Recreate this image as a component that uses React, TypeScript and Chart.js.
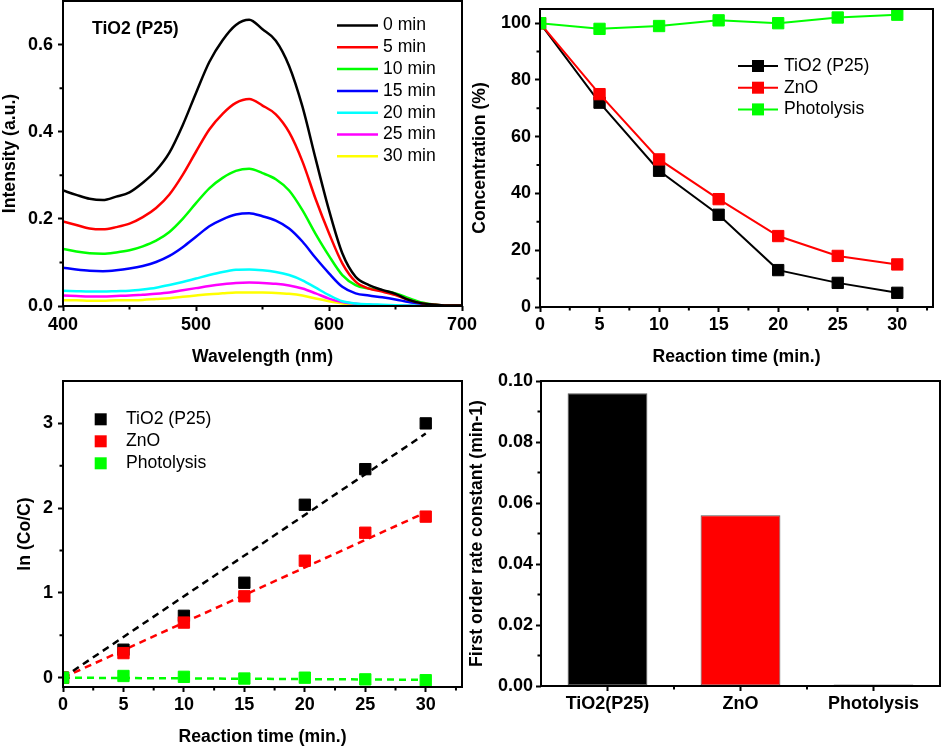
import React, { useEffect, useRef } from 'react';
import { Chart, registerables } from 'chart.js';

Chart.register(...registerables);

const FONT_FAMILY = "'Liberation Sans', Arial, Helvetica, sans-serif";
const TICK_FONT = { family: FONT_FAMILY, size: 18, weight: 'bold' as const };
const TITLE_FONT = { family: FONT_FAMILY, size: 17.6, weight: 'bold' as const };
const LEGEND_FONT = `17.6px ${FONT_FAMILY}`;
const NOTE_FONT = `bold 17.6px ${FONT_FAMILY}`;

// ---------------- Panel (a): spectra vs time ----------------
const wavelengths = [400, 410, 420, 430, 440, 450, 460, 470, 480, 490, 500, 510, 520, 530, 540, 550, 560, 570, 580, 590, 600, 610, 620, 630, 640, 650, 660, 670, 680, 690, 700];
const spectrum0 = [0.265, 0.255, 0.246, 0.243, 0.251, 0.261, 0.283, 0.311, 0.352, 0.415, 0.489, 0.560, 0.610, 0.645, 0.657, 0.635, 0.609, 0.551, 0.458, 0.337, 0.220, 0.121, 0.067, 0.048, 0.037, 0.028, 0.014, 0.006, 0.003, 0.001, 0.001];
const spectrum5 = [0.194, 0.186, 0.178, 0.176, 0.181, 0.189, 0.204, 0.225, 0.256, 0.301, 0.354, 0.405, 0.441, 0.466, 0.475, 0.460, 0.440, 0.399, 0.332, 0.245, 0.167, 0.098, 0.056, 0.040, 0.033, 0.025, 0.014, 0.006, 0.003, 0.001, 0.001];
const spectrum10 = [0.131, 0.125, 0.121, 0.120, 0.123, 0.128, 0.137, 0.150, 0.170, 0.200, 0.236, 0.270, 0.294, 0.310, 0.315, 0.305, 0.291, 0.265, 0.220, 0.165, 0.115, 0.071, 0.048, 0.040, 0.035, 0.029, 0.018, 0.008, 0.003, 0.001, 0.001];
const spectrum15 = [0.088, 0.084, 0.081, 0.080, 0.082, 0.086, 0.092, 0.101, 0.115, 0.135, 0.159, 0.183, 0.199, 0.210, 0.213, 0.206, 0.196, 0.178, 0.148, 0.110, 0.075, 0.044, 0.029, 0.024, 0.020, 0.015, 0.009, 0.005, 0.002, 0.001, 0.001];
const spectrum20 = [0.035, 0.034, 0.033, 0.033, 0.034, 0.035, 0.038, 0.042, 0.048, 0.055, 0.063, 0.071, 0.078, 0.083, 0.084, 0.082, 0.078, 0.071, 0.059, 0.042, 0.025, 0.011, 0.006, 0.004, 0.003, 0.002, 0.001, 0.001, 0.001, 0.001, 0.001];
const spectrum25 = [0.024, 0.023, 0.022, 0.022, 0.023, 0.024, 0.026, 0.028, 0.031, 0.036, 0.041, 0.046, 0.050, 0.053, 0.054, 0.053, 0.051, 0.047, 0.040, 0.029, 0.017, 0.009, 0.005, 0.003, 0.002, 0.002, 0.001, 0.001, 0.001, 0.001, 0.001];
const spectrum30 = [0.013, 0.013, 0.012, 0.012, 0.013, 0.013, 0.014, 0.016, 0.018, 0.021, 0.024, 0.027, 0.029, 0.031, 0.031, 0.031, 0.030, 0.028, 0.024, 0.017, 0.011, 0.006, 0.003, 0.002, 0.001, 0.001, 0.001, 0.001, 0.001, 0.001, 0.001];
const spectra = [spectrum0, spectrum5, spectrum10, spectrum15, spectrum20, spectrum25, spectrum30];
const spectrumLabels = ['0 min', '5 min', '10 min', '15 min', '20 min', '25 min', '30 min'];
const spectrumColors = ['#000000', '#ff0000', '#00ff00', '#0000ff', '#00ffff', '#ff00ff', '#ffff00'];
const wavelengthTicks = [400, 500, 600, 700];
const wavelengthMinorTicks = [450, 550, 650];
const intensityTicks = [0, 0.2, 0.4, 0.6];
const intensityMinorTicks = [0.1, 0.3, 0.5];

// ---------------- Panel (b): concentration vs time ----------------
const reactionTimes = [0, 5, 10, 15, 20, 25, 30];
const concTiO2 = [100, 72, 48, 32.5, 13, 8.5, 5];
const concZnO = [100, 75, 52, 38, 25, 18, 15];
const concPhotolysis = [100, 98, 99, 101, 100, 102, 103];
const seriesLabels = ['TiO2 (P25)', 'ZnO', 'Photolysis'];
const seriesColors = ['#000000', '#ff0000', '#00ff00'];
const timeTicks = [0, 5, 10, 15, 20, 25, 30];
const timeMinorTicks = [2.5, 7.5, 12.5, 17.5, 22.5, 27.5, 32.5];
const concTicks = [0, 20, 40, 60, 80, 100];
const concMinorTicks = [10, 30, 50, 70, 90];

// ---------------- Panel (c): ln(Co/C) vs time ----------------
const lnTiO2 = [0, 0.33, 0.73, 1.12, 2.04, 2.46, 3.0];
const lnZnO = [0, 0.29, 0.65, 0.96, 1.38, 1.71, 1.9];
const lnPhotolysis = [0, 0.02, 0.01, -0.01, 0.0, -0.02, -0.03];
const fitTimes = [0, 30];
const fitTiO2 = [0, 2.88];
const fitZnO = [0, 1.95];
const fitPhotolysis = [0, -0.025];
const lnTicks = [0, 1, 2, 3];
const lnMinorTicks = [0.5, 1.5, 2.5];

// ---------------- Panel (d): rate constants ----------------
const catalysts = ['TiO2(P25)', 'ZnO', 'Photolysis'];
const rateConstants = [0.096, 0.056, 0.0005];
const barColors = ['#000000', '#ff0000', '#00ff00'];
const rateTicks = [0, 0.02, 0.04, 0.06, 0.08, 0.1];
const rateMinorTicks = [0.01, 0.03, 0.05, 0.07, 0.09];
const catalystBoundaries = [0.5, 1.5];

type LegendKind = 'line' | 'lineRect' | 'rect';
interface Decor {
  xMinor?: number[];
  yMinor?: number[];
  legend?: {
    kind: LegendKind;
    datasets: number[];
    x0: number;
    x1: number;
    textX: number;
    y0: number;
    dy: number;
    marker: number;
    lineWidth: number;
  };
  note?: { text: string; x: number; y: number };
}

function decorPlugin(d: Decor) {
  return {
    id: 'decor',
    afterDraw(chart: any) {
      const { ctx, chartArea: a } = chart;
      const xs = chart.scales.x;
      const ys = chart.scales.y;
      ctx.save();
      ctx.strokeStyle = '#000';
      ctx.lineWidth = 2;
      ctx.setLineDash([]);
      ctx.beginPath();
      for (const v of d.xMinor || []) {
        const p = xs.getPixelForValue(v);
        ctx.moveTo(p, a.bottom);
        ctx.lineTo(p, a.bottom + 3.5);
      }
      for (const v of d.yMinor || []) {
        const p = ys.getPixelForValue(v);
        ctx.moveTo(a.left, p);
        ctx.lineTo(a.left - 3.5, p);
      }
      ctx.stroke();
      ctx.strokeRect(a.left, a.top, a.right - a.left, a.bottom - a.top);

      if (d.note) {
        ctx.font = NOTE_FONT;
        ctx.fillStyle = '#000';
        ctx.textAlign = 'left';
        ctx.textBaseline = 'middle';
        ctx.fillText(d.note.text, d.note.x, d.note.y);
      }
      const L = d.legend;
      if (L) {
        ctx.font = LEGEND_FONT;
        ctx.textAlign = 'left';
        ctx.textBaseline = 'middle';
        L.datasets.forEach((di, i) => {
          const ds = chart.data.datasets[di];
          const color = ds.borderColor as string;
          const y = L.y0 + i * L.dy;
          if (L.kind === 'line' || L.kind === 'lineRect') {
            ctx.strokeStyle = color;
            ctx.lineWidth = L.lineWidth;
            ctx.beginPath();
            ctx.moveTo(L.x0, y);
            ctx.lineTo(L.x1, y);
            ctx.stroke();
          }
          if (L.kind === 'lineRect' || L.kind === 'rect') {
            const cx = L.kind === 'rect' ? L.x0 : (L.x0 + L.x1) / 2;
            ctx.fillStyle = color;
            ctx.fillRect(cx - L.marker / 2, y - L.marker / 2, L.marker, L.marker);
          }
          ctx.fillStyle = '#000';
          ctx.fillText(ds.label, L.textX, y);
        });
      }
      ctx.restore();
    },
  };
}

const tickGrid = {
  display: true,
  drawOnChartArea: false,
  drawTicks: true,
  tickLength: 5,
  tickWidth: 2,
  tickColor: '#000',
};

function yScale(opts: {
  min: number; max: number; ticks: number[]; fmt: (v: number) => string;
  width: number; title: string; titlePad: number; labelPad: number;
}) {
  return {
    type: 'linear' as const,
    min: opts.min,
    max: opts.max,
    border: { display: false },
    grid: tickGrid,
    afterBuildTicks: (s: any) => { s.ticks = opts.ticks.map((v) => ({ value: v })); },
    afterFit: (s: any) => { s.width = opts.width; s.paddingTop = 0; s.paddingBottom = 0; },
    ticks: { font: TICK_FONT, color: '#000', padding: opts.labelPad, callback: (v: any) => opts.fmt(Number(v)) },
    title: { display: true, text: opts.title, font: TITLE_FONT, color: '#000', padding: { top: opts.titlePad, bottom: 0 } },
  };
}

function xLinear(opts: {
  min: number; max: number; ticks: number[]; height: number; title: string; titlePad: number; labelPad: number;
}) {
  return {
    type: 'linear' as const,
    min: opts.min,
    max: opts.max,
    border: { display: false },
    grid: tickGrid,
    afterBuildTicks: (s: any) => { s.ticks = opts.ticks.map((v) => ({ value: v })); },
    afterFit: (s: any) => { s.height = opts.height; s.paddingLeft = 0; s.paddingRight = 0; },
    ticks: { font: TICK_FONT, color: '#000', padding: opts.labelPad, maxRotation: 0, autoSkip: false, callback: (v: any) => String(v) },
    title: { display: true, text: opts.title, font: TITLE_FONT, color: '#000', padding: { top: 0, bottom: opts.titlePad } },
  };
}

const baseOptions = {
  animation: false as const,
  responsive: false,
  events: [] as any[],
  plugins: { legend: { display: false }, tooltip: { enabled: false }, title: { display: false } },
};

function pts(xs: number[], ys: number[]) {
  return xs.map((x, i) => ({ x, y: ys[i] }));
}

function buildSpectra(): any {
  return {
    type: 'line',
    data: {
      datasets: spectra.map((s, i) => ({
        label: spectrumLabels[i],
        data: pts(wavelengths, s),
        borderColor: spectrumColors[i],
        backgroundColor: spectrumColors[i],
        borderWidth: 2.5,
        pointRadius: 0,
        cubicInterpolationMode: 'monotone',
        fill: false,
        clip: 0,
      })),
    },
    options: {
      ...baseOptions,
      layout: { padding: { left: 0, top: 1, right: 18, bottom: 0 } },
      scales: {
        x: xLinear({ min: 400, max: 700, ticks: wavelengthTicks, height: 64, title: 'Wavelength (nm)', titlePad: 2.5, labelPad: 3 }),
        y: yScale({ min: 0, max: 0.7, ticks: intensityTicks, fmt: (v) => v.toFixed(1), width: 63, title: 'Intensity (a.u.)', titlePad: 0, labelPad: 5 }),
      },
    },
    plugins: [decorPlugin({
      xMinor: wavelengthMinorTicks,
      yMinor: intensityMinorTicks,
      note: { text: 'TiO2 (P25)', x: 92, y: 29 },
      legend: { kind: 'line', datasets: [0, 1, 2, 3, 4, 5, 6], x0: 337, x1: 378, textX: 383, y0: 25.5, dy: 21.8, marker: 0, lineWidth: 2.5 },
    })],
  };
}

function buildConcentration(): any {
  const series = [concTiO2, concZnO, concPhotolysis];
  const orders = [3, 2, 1];
  return {
    type: 'line',
    data: {
      datasets: series.map((s, i) => ({
        label: seriesLabels[i],
        data: pts(reactionTimes, s),
        borderColor: seriesColors[i],
        backgroundColor: seriesColors[i],
        borderWidth: 2,
        pointStyle: 'rect',
        pointRadius: 8,
        pointBorderWidth: 1,
        tension: 0,
        order: orders[i],
        clip: 0,
      })),
    },
    options: {
      ...baseOptions,
      layout: { padding: { left: 0, top: 1, right: 4, bottom: 0 } },
      scales: {
        x: xLinear({ min: 0, max: 33, ticks: timeTicks, height: 63, title: 'Reaction time (min.)', titlePad: 2.5, labelPad: 2.5 }),
        y: yScale({ min: 0, max: 105, ticks: concTicks, fmt: (v) => String(Math.round(v)), width: 75, title: 'Concentration (%)', titlePad: 4.5, labelPad: 4 }),
      },
    },
    plugins: [decorPlugin({
      xMinor: timeMinorTicks,
      yMinor: concMinorTicks,
      legend: { kind: 'lineRect', datasets: [0, 1, 2], x0: 273, x1: 313, textX: 319, y0: 66, dy: 21.7, marker: 12, lineWidth: 2 },
    })],
  };
}

function buildKinetics(): any {
  const series = [lnTiO2, lnZnO, lnPhotolysis];
  const fits = [fitTiO2, fitZnO, fitPhotolysis];
  const orders = [3, 2, 1];
  const pointSets = series.map((s, i) => ({
    label: seriesLabels[i],
    data: pts(reactionTimes, s),
    borderColor: seriesColors[i],
    backgroundColor: seriesColors[i],
    showLine: false,
    pointStyle: 'rect',
    pointRadius: 8,
    pointBorderWidth: 1,
    order: orders[i],
    clip: 0,
  }));
  const fitSets = fits.map((f, i) => ({
    label: seriesLabels[i] + ' fit',
    data: pts(fitTimes, f),
    borderColor: seriesColors[i],
    backgroundColor: seriesColors[i],
    borderWidth: 2.5,
    borderDash: [7, 5],
    pointRadius: 0,
    order: 10 + i,
    clip: 0,
  }));
  return {
    type: 'line',
    data: { datasets: [...pointSets, ...fitSets] },
    options: {
      ...baseOptions,
      layout: { padding: { left: 0, top: 11, right: 18, bottom: 0 } },
      scales: {
        x: xLinear({ min: 0, max: 33, ticks: timeTicks, height: 62, title: 'Reaction time (min.)', titlePad: 1.5, labelPad: 2 }),
        y: yScale({ min: -0.11, max: 3.5, ticks: lnTicks, fmt: (v) => String(v), width: 63, title: 'ln (Co/C)', titlePad: 14.5, labelPad: 5 }),
      },
    },
    plugins: [decorPlugin({
      xMinor: timeMinorTicks,
      yMinor: lnMinorTicks,
      legend: { kind: 'rect', datasets: [0, 1, 2], x0: 100.7, x1: 100.7, textX: 126, y0: 49.3, dy: 22, marker: 12, lineWidth: 0 },
    })],
  };
}

function buildRates(): any {
  return {
    type: 'bar',
    data: {
      labels: catalysts,
      datasets: [{
        label: 'First order rate constant',
        data: rateConstants,
        backgroundColor: barColors,
        borderColor: '#555555',
        borderWidth: 1,
        borderSkipped: false,
        barPercentage: 0.6,
        categoryPercentage: 1,
      }],
    },
    options: {
      ...baseOptions,
      layout: { padding: { left: 0, top: 11, right: 2, bottom: 0 } },
      scales: {
        x: {
          type: 'category',
          offset: true,
          border: { display: false },
          grid: { ...tickGrid, offset: false },
          afterFit: (s: any) => { s.height = 63; s.paddingLeft = 0; s.paddingRight = 0; },
          ticks: { font: TICK_FONT, color: '#000', padding: 2, maxRotation: 0, autoSkip: false },
        },
        y: yScale({ min: 0, max: 0.1, ticks: rateTicks, fmt: (v) => v.toFixed(2), width: 76, title: 'First order rate constant (min-1)', titlePad: 1.5, labelPad: 3 }),
      },
    },
    plugins: [decorPlugin({ xMinor: catalystBoundaries, yMinor: rateMinorTicks })],
  };
}

function Panel(props: { left: number; top: number; width: number; height: number; build: () => any }) {
  const ref = useRef<HTMLCanvasElement>(null);
  useEffect(() => {
    const chart = new Chart(ref.current as HTMLCanvasElement, props.build());
    return () => chart.destroy();
  }, []);
  return (
    <canvas
      ref={ref}
      width={props.width}
      height={props.height}
      style={{ position: 'absolute', left: props.left, top: props.top, width: props.width, height: props.height }}
    />
  );
}

export default function App() {
  return (
    <div style={{ position: 'absolute', left: 0, top: 0, width: 942, height: 749, background: '#fff', overflow: 'hidden' }}>
      <Panel left={0} top={0} width={480} height={370} build={buildSpectra} />
      <Panel left={465} top={0} width={477} height={370} build={buildConcentration} />
      <Panel left={0} top={370} width={480} height={379} build={buildKinetics} />
      <Panel left={465} top={370} width={477} height={379} build={buildRates} />
    </div>
  );
}
